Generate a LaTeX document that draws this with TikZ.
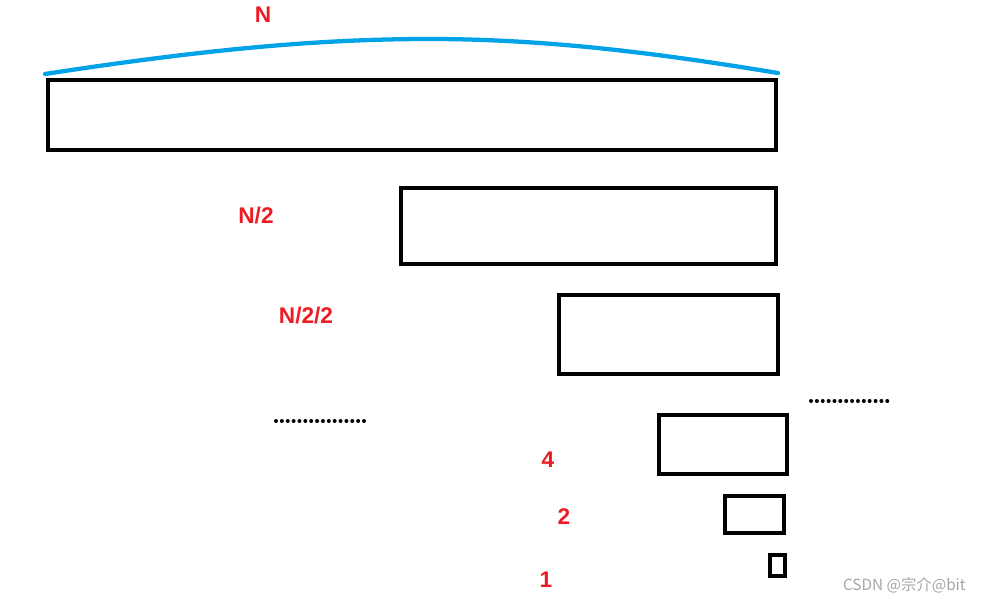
\documentclass[tikz,border=0pt]{standalone}
\usepackage{fontspec}
\setmainfont{Liberation Sans}
\newfontfamily\cjkfont{Noto Sans CJK SC}
\definecolor{pred}{HTML}{ED1C24}
\definecolor{pblue}{HTML}{00A2E8}
\definecolor{wmgray}{HTML}{A6A6A6}
\tikzset{
  blk/.style={draw=black, line width=3.3pt, rectangle, inner sep=0pt, outer sep=0pt},
  lbl/.style={text=pred, font=\fontsize{17}{17}\selectfont\bfseries, inner sep=0pt},
  dotline/.style={line width=3pt, line cap=round, dash pattern=on 0pt off 4.4pt},
}
\begin{document}
\begin{tikzpicture}[x=0.75pt,y=-0.75pt]
\useasboundingbox (0,0) rectangle (981,603);
% boxes
\node[blk, minimum width={0.75pt*728}, minimum height={0.75pt*70}] (b1) at (412,115) {};
\node[blk, minimum width={0.75pt*375}, minimum height={0.75pt*76}] (b2) at (588.5,226) {};
\node[blk, minimum width={0.75pt*219}, minimum height={0.75pt*79}] (b3) at (668.5,334.5) {};
\node[blk, minimum width={0.75pt*128}, minimum height={0.75pt*59}] (b4) at (723,444.5) {};
\node[blk, minimum width={0.75pt*59}, minimum height={0.75pt*37}] (b5) at (754.5,514.5) {};
\node[blk, minimum width={0.75pt*15}, minimum height={0.75pt*21}] (b6) at (777.5,565.5) {};
% blue arc
\coordinate (al) at (45,74);
\coordinate (ar) at (778,73);
\coordinate (ap) at (430,39);
\draw[pblue, line width=3.2pt, line cap=round] (al) .. controls (220,47) and (330,39) .. (ap) .. controls (560,39) and (680,57) .. (ar);
% labels
\node[lbl] (lN) at (263,15) {N};
\node[lbl] (lN2) at (256,216) {N/2};
\node[lbl] (lN22) at (306,316) {N/2/2};
\node[lbl] (l4) at (548,460) {4};
\node[lbl] (l2) at (564,517) {2};
\node[lbl] (l1) at (546,580) {1};
% dotted lines
\coordinate (d1a) at (276,421);
\coordinate (d1b) at (367,421);
\coordinate (d2a) at (811,401);
\coordinate (d2b) at (890,401);
\draw[dotline] (d1a) -- (d1b);
\draw[dotline] (d2a) -- (d2b);
% watermark
\node[text=wmgray, font=\cjkfont\fontsize{11.5}{11.5}\selectfont, inner sep=0pt, anchor=east] (wm) at (966,585) {CSDN @宗介@bit};
\end{tikzpicture}
\end{document}
